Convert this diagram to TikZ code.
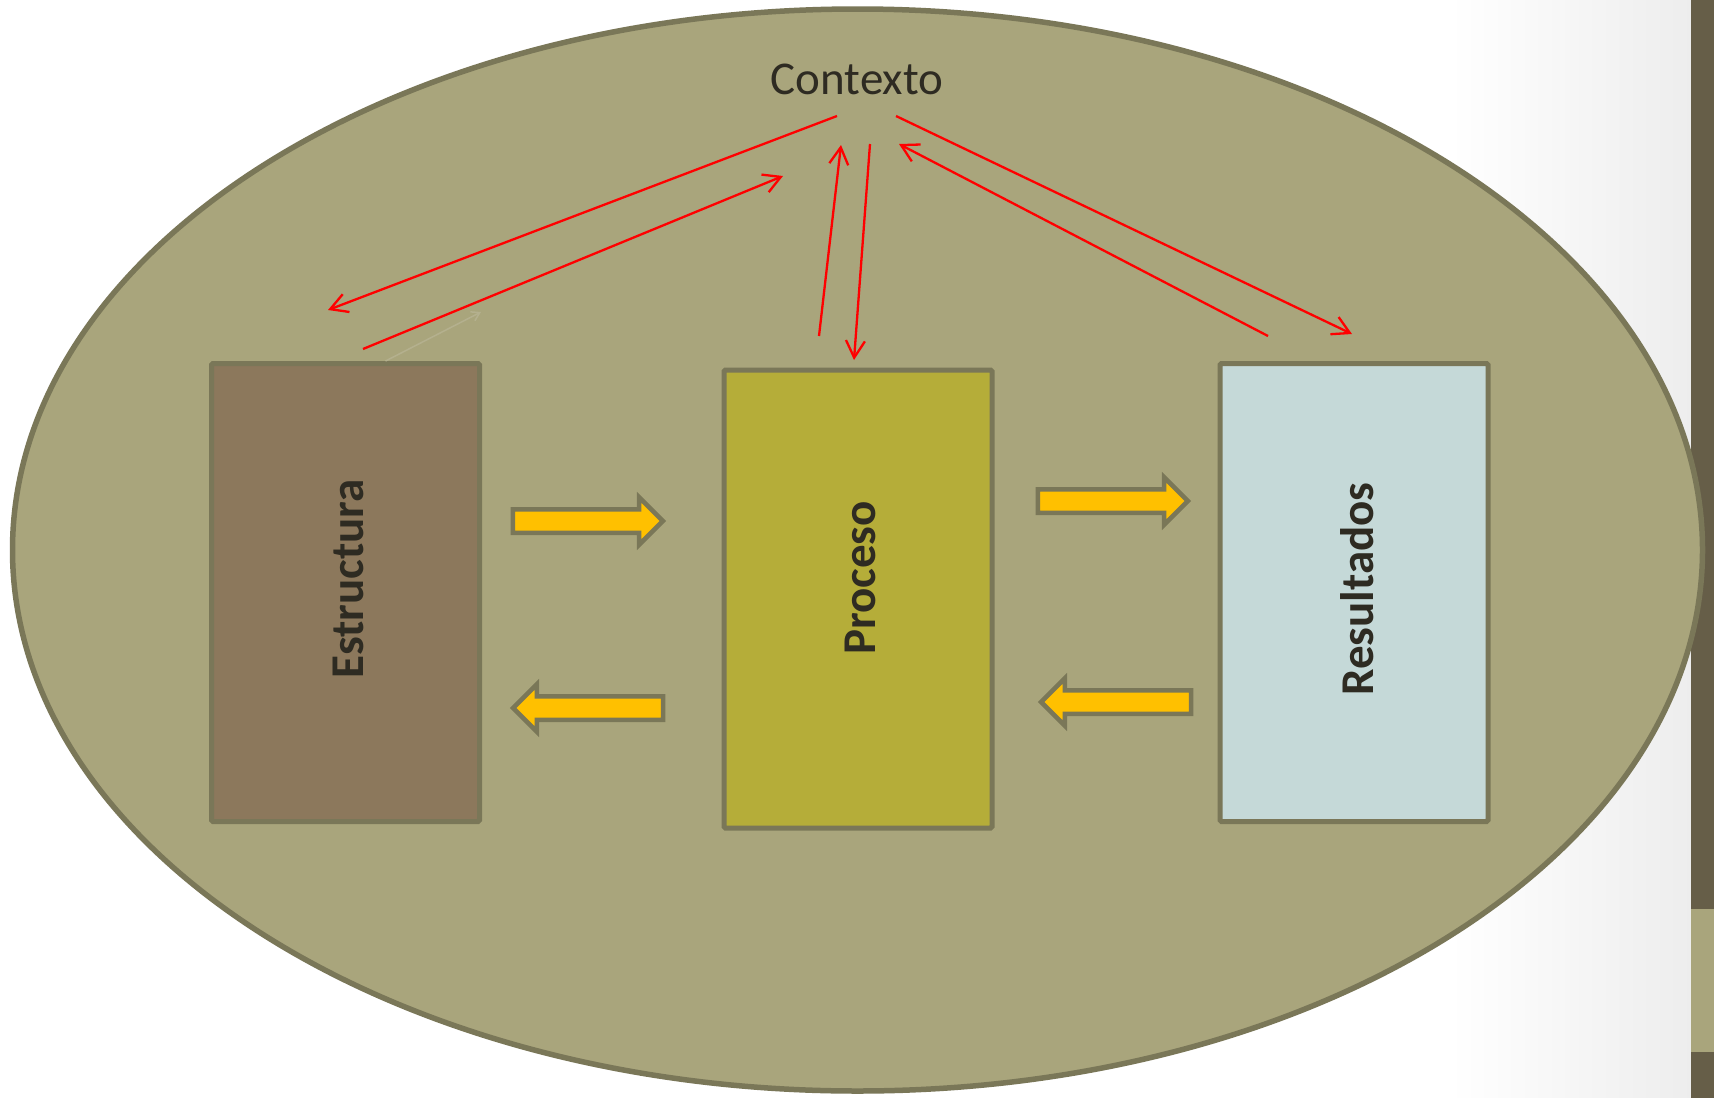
\documentclass[tikz,border=0pt]{standalone}
\usepackage{fontspec}
\setmainfont{Carlito}
\usetikzlibrary{arrows.meta,shapes.arrows}

\definecolor{oliveback}{HTML}{A9A57C}
\definecolor{oliveline}{HTML}{7A7758}
\definecolor{stripdark}{HTML}{665E48}
\definecolor{boxbrown}{HTML}{8C785C}
\definecolor{boxolive}{HTML}{B5AD39}
\definecolor{boxblue}{HTML}{C5D9D8}
\definecolor{arrowgold}{HTML}{FFC000}
\definecolor{textdark}{HTML}{2E2B22}
\definecolor{ghostline}{HTML}{B4B08E}

\tikzset{
  box/.style={draw=oliveline, line width=5pt, rounded corners=1.5pt,
    minimum width=268pt, minimum height=458pt, inner sep=0pt},
  lbl/.style={rotate=90, font=\fontsize{47}{56}\selectfont\bfseries,
    text=textdark, inner sep=0pt},
  fat/.style={single arrow, draw=oliveline, fill=arrowgold, line width=4.5pt,
    inner xsep=0pt, inner ysep=9.5pt, minimum height=150pt,
    single arrow head extend=12pt},
  link/.style={red, line width=2.3pt, -{Straight Barb[length=17pt,width=19pt]}},
}

\begin{document}
\begin{tikzpicture}[x=1pt,y=-1pt]
\useasboundingbox (0,0) rectangle (1714,1098);
\fill[white] (0,0) rectangle (1714,1098);
\shade[left color=white, right color=gray!14] (1450,0) rectangle (1691,1098);
\fill[stripdark] (1691,0) rectangle (1714,1098);
\fill[oliveback] (1691,909) rectangle (1714,1052);

% context
\draw[fill=oliveback, draw=oliveline, line width=5.5pt]
    (857.5,550) ellipse [x radius=845, y radius=541];
\node[font=\fontsize{47}{56}\selectfont, text=textdark] (ctx) at (857,79) {Contexto};

% boxes
\node[box, fill=boxbrown] (est) at (345.5,592.5) {};
\node[box, fill=boxolive] (pro) at (858,599) {};
\node[box, fill=boxblue] (res) at (1354,592.5) {};
\node[lbl] (estlbl) at (348,579) {Estructura};
\node[lbl] (prolbl) at (860,578) {Proceso};
\node[lbl] (reslbl) at (1357,589) {Resultados};

% block arrows
\node[fat] (ep) at (582,521) {};
\node[fat, shape border rotate=180] (pe) at (594,708) {};
\node[fat] (pr) at (1107,501) {};
\node[fat, shape border rotate=180] (rp) at (1122,702) {};

% red links
\coordinate (ctxw1) at (837,116);
\coordinate (ctxw2) at (783,176);
\coordinate (ctxm1) at (841,145);
\coordinate (ctxm2) at (870,144);
\coordinate (ctxe1) at (899,144);
\coordinate (ctxe2) at (896,116);
\coordinate (estin) at (328,310);
\coordinate (estout) at (363,349);
\coordinate (proout) at (819,336);
\coordinate (proin) at (854,360);
\coordinate (resout) at (1268,336);
\coordinate (resin) at (1352,334);
\draw[link] (ctxw1) -- (estin);
\draw[link] (estout) -- (ctxw2);
\draw[link] (proout) -- (ctxm1);
\draw[link] (ctxm2) -- (proin);
\draw[link] (resout) -- (ctxe1);
\draw[link] (ctxe2) -- (resin);
\draw[ghostline, line width=1.5pt, -{Straight Barb[length=8pt,width=10pt]}]
    ([xshift=40pt]est.north) -- (481,312);
\end{tikzpicture}
\end{document}
